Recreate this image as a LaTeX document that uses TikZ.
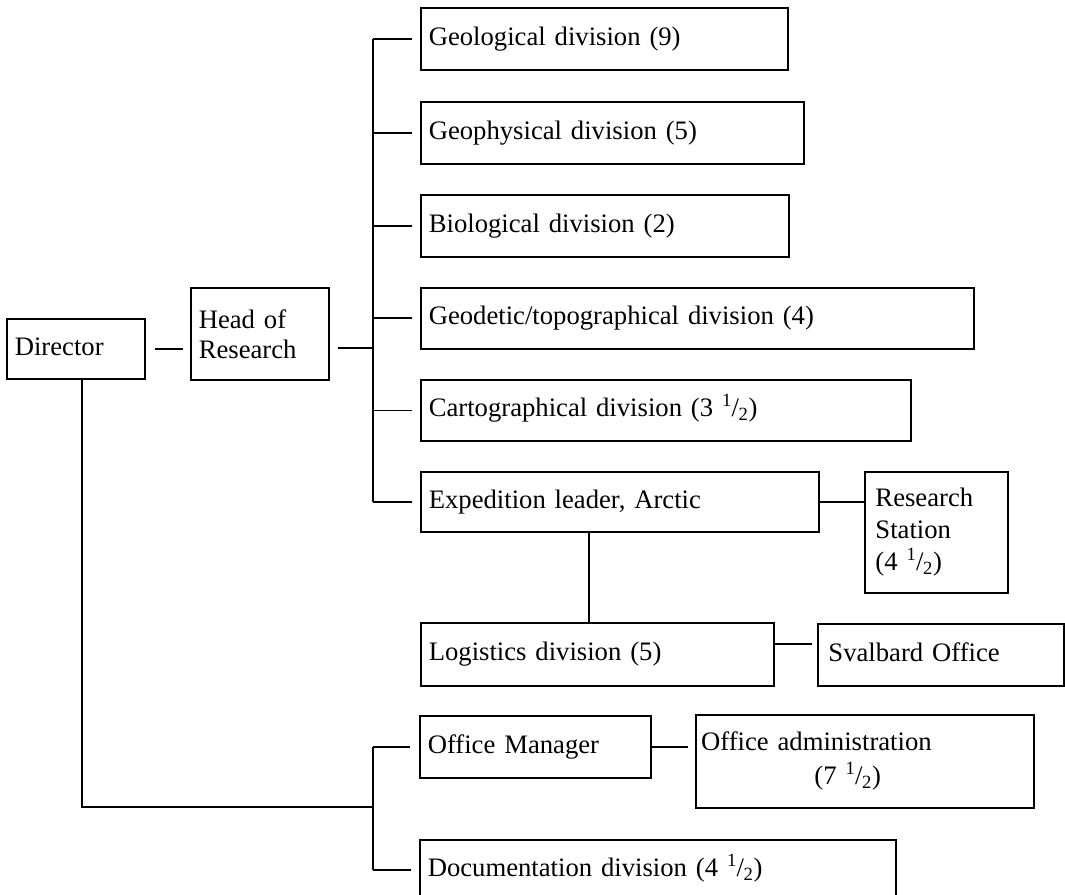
\documentclass[tikz,border=0pt]{standalone}
\usepackage{fontspec}
\setmainfont{Liberation Serif}
\newcommand\myhalf{\textsuperscript{1}\kern-0.3pt/\kern-0.3pt\textsubscript{2}}
\tikzset{
  box/.style={draw, line width=1.2pt, anchor=north west, align=left,
    inner xsep=6pt, inner ysep=0pt, font=\fontsize{20}{23.5}\selectfont},
  one/.style={text height=14pt, text depth=4.5pt},
  conn/.style={line width=1.2pt},
}
\begin{document}
\begin{tikzpicture}[x=0.75pt,y=-0.75pt]
\useasboundingbox (0,0) rectangle (1065,895);
\clip (0,0) rectangle (1065,895);
% boxes
\node[box, one, minimum width=103.5pt, minimum height=45pt, text width=91.5pt] (dir) at (6,318) {Director};
\node[box, minimum width=103.5pt, minimum height=69pt, text width=91.5pt] (head) at (190,287) {Head of\\[-1pt]Research};
\node[box, one, minimum width=275.25pt, minimum height=46.5pt, text width=263.25pt] (geol) at (420,7) {Geological division (9)};
\node[box, one, minimum width=287.25pt, minimum height=46.5pt, text width=275.25pt] (geoph) at (420,101) {Geophysical division (5)};
\node[box, one, minimum width=276pt, minimum height=46.5pt, text width=264pt] (bio) at (420,194) {Biological division (2)};
\node[box, one, minimum width=414.75pt, minimum height=45.75pt, text width=402.75pt] (geod) at (420,287) {Geodetic/topographical division (4)};
\node[box, one, minimum width=367.5pt, minimum height=45.75pt, text width=355.5pt] (carto) at (420,379) {Cartographical division (3~\myhalf)};
\node[box, one, minimum width=298.5pt, minimum height=45pt, text width=286.5pt] (exped) at (420,471) {Expedition leader, Arctic};
\node[box, minimum width=103.5pt, minimum height=90.75pt, text width=91.5pt, inner xsep=8pt] (rstat) at (864,471) {Research\\[0.5pt]Station\\[0.5pt](4~\myhalf)};
\node[box, one, minimum width=264.75pt, minimum height=47.25pt, text width=252.75pt] (logi) at (420,622) {Logistics division (5)};
\node[box, one, minimum width=184.5pt, minimum height=46.5pt, text width=168.5pt, inner xsep=8pt] (sval) at (817,623) {Svalbard Office};
\node[box, one, minimum width=173.25pt, minimum height=46.5pt, text width=161.25pt] (offm) at (419,715) {Office Manager};
\node[box, minimum width=253.5pt, minimum height=69.75pt, text width=245.5pt, inner xsep=4pt] (offa) at (695,714) {Office administration\\[2pt]\hspace*{85pt}(7~\myhalf)};
\node[box, one, minimum width=357pt, minimum height=45pt, text width=345pt] (docu) at (419,839) {Documentation division (4~\myhalf)};
% helper coordinates
\coordinate (sp) at (373,348);
\coordinate (ev) at (589,540);
\coordinate (ls) at (790,644);
\coordinate (dc) at (82,807);
\coordinate (osp) at (373,807);
% connectors
\draw[conn, shorten <=6.75pt, shorten >=5.25pt] (dir.east) -- (dir.east -| head.west);
\draw[conn, shorten <=6pt] (head.east |- sp) -- (sp);
\draw[conn] (sp |- geol.west) -- (sp |- exped.west);
\foreach \n in {geol,geoph,bio,geod,carto,exped}
  \draw[conn, shorten >=6pt] (sp |- \n.west) -- (\n.west);
\draw[conn] (exped.east) -- (exped.east -| rstat.west);
\draw[conn] (exped.south -| ev) -- (logi.north -| ev);
\draw[conn, shorten >=3.75pt] (logi.east |- ls) -- (sval.west |- ls);
\draw[conn, shorten >=5.25pt] (offm.east) -- (offm.east -| offa.west);
\draw[conn] (dir.south -| dc) -- (dc) -- (osp);
\draw[conn] (osp |- offm.west) -- (osp |- docu.west);
\draw[conn, shorten >=6.5pt] (osp |- offm.west) -- (offm.west);
\draw[conn, shorten >=6pt] (osp |- docu.west) -- (docu.west);
\end{tikzpicture}
\end{document}
